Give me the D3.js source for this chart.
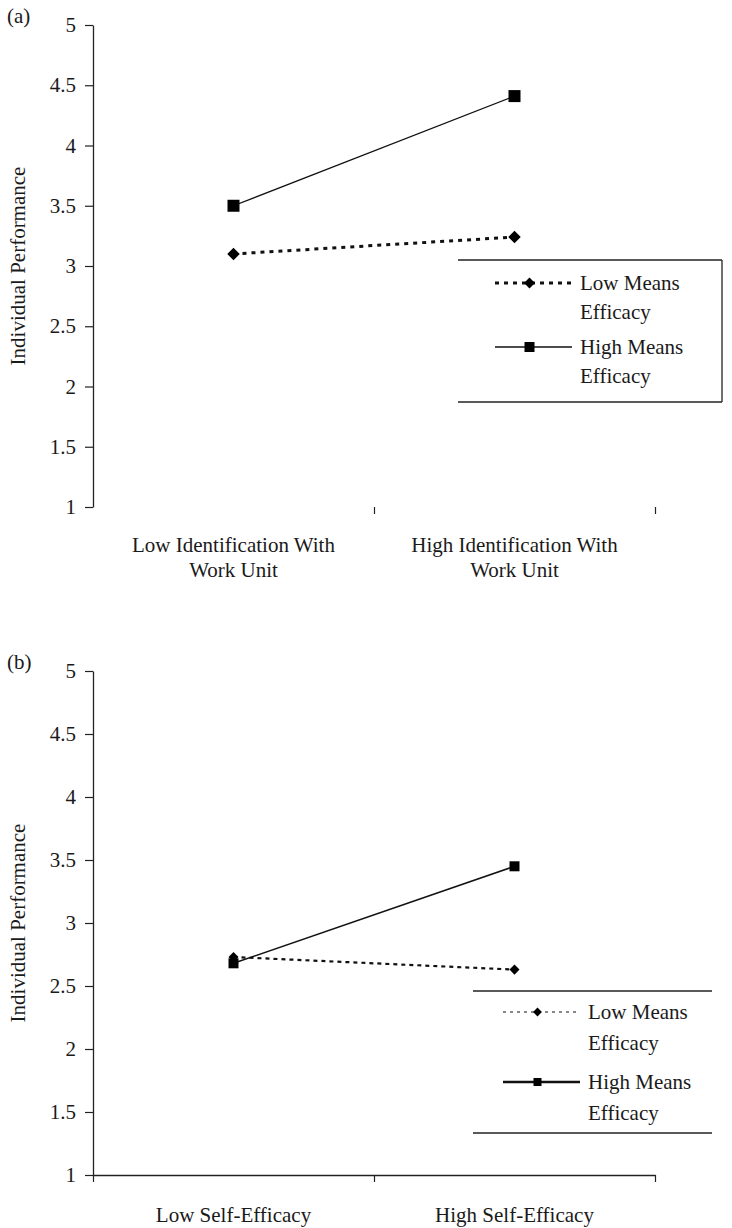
<!DOCTYPE html>
<html>
<head>
<meta charset="utf-8">
<script src="https://cdn.jsdelivr.net/npm/d3@7"></script>
<style>
  body { margin: 0; background: #fff; }
  svg text { font-family: "Liberation Serif", "Times New Roman", serif; fill: #1a1a1a; }
</style>
</head>
<body>
<div id="chart"></div>
<script>
"use strict";

// data
const yTicks = [1, 1.5, 2, 2.5, 3, 3.5, 4, 4.5, 5];
const seriesNames = ["Low Means Efficacy", "High Means Efficacy"];

const catsA = [["Low Identification With", "Work Unit"], ["High Identification With", "Work Unit"]];
const lowMeansA = [3.10, 3.24];
const highMeansA = [3.50, 4.41];

const catsB = [["Low Self-Efficacy"], ["High Self-Efficacy"]];
const lowMeansB = [2.73, 2.63];
const highMeansB = [2.68, 3.45];

const W = 732, H = 1228;
const FS = "21px";
const svg = d3.select("#chart").append("svg")
    .attr("width", W).attr("height", H);

// panel settings (layout only)
const panels = [
  { tag: "(a)", cats: catsA, low: lowMeansA, high: highMeansA,
    top: 25, bottom: 507, xAxisLine: false,
    lowStyle: { dash: "4,5", width: 3 }, highStyle: { width: 1.3 },
    legLow: { dash: "4,5", width: 3 }, legHigh: { width: 1.3 },
    dSize: 100, sSize: 144, legD: 75, legS: 100,
    legendBox: { x0: 458, x1: 722, y0: 260, y1: 402, right: true },
    legendText: 580, rowY: [23, 87], lineGap: 29, labelY: 552 },
  { tag: "(b)", cats: catsB, low: lowMeansB, high: highMeansB,
    top: 671, bottom: 1175, xAxisLine: true,
    lowStyle: { dash: "4,4", width: 2.2 }, highStyle: { width: 1.5 },
    legLow: { dash: "3,4", width: 1 }, legHigh: { width: 2.5 },
    dSize: 64, sSize: 100, legD: 50, legS: 64,
    legendBox: { x0: 473, x1: 712, y0: 991, y1: 1133, right: false },
    legendText: 588, rowY: [21, 91], lineGap: 31, labelY: 1222 }
];

const xLeft = 93, xRight = 655;

panels.forEach(p => {
  const g = svg.append("g");

  const y = d3.scaleLinear().domain([1, 5]).range([p.bottom, p.top]);
  const x = d3.scalePoint().domain(p.cats.map((d, i) => i)).range([xLeft, xRight]).padding(0.5);
  const xEdge = d3.scaleLinear().domain([0, 2]).range([xLeft, xRight]);

  // y axis
  const yAxis = g.append("g")
      .attr("transform", "translate(" + xLeft + ",0)")
      .call(d3.axisLeft(y).tickValues(yTicks).tickSize(8).tickSizeOuter(0)
            .tickPadding(9).tickFormat(d => String(d)));
  yAxis.selectAll("text").style("font-size", FS);
  yAxis.select(".domain").attr("stroke", "#222").attr("stroke-width", 1.3);
  yAxis.selectAll(".tick line").attr("stroke", "#222").attr("stroke-width", 1.2);

  // x axis (panel a only shows the tick marks)
  const xAxis = g.append("g")
      .attr("transform", "translate(0," + p.bottom + ")")
      .call(d3.axisBottom(xEdge).tickValues(p.xAxisLine ? [0, 1, 2] : [1, 2])
            .tickSize(7).tickSizeOuter(0).tickFormat(""));
  xAxis.select(".domain").attr("stroke", p.xAxisLine ? "#222" : "none").attr("stroke-width", 1.3);
  xAxis.selectAll(".tick line").attr("stroke", "#222").attr("stroke-width", 1.2);

  // category labels
  p.cats.forEach((lines, i) => {
    const t = g.append("text")
        .attr("x", x(i)).attr("y", p.labelY)
        .attr("text-anchor", "middle")
        .style("font-size", FS);
    lines.forEach((s, j) => {
      t.append("tspan").attr("x", x(i)).attr("dy", j === 0 ? 0 : 25).text(s);
    });
  });

  // y title
  g.append("text")
      .attr("transform", "translate(25," + ((p.top + p.bottom) / 2) + ") rotate(-90)")
      .attr("text-anchor", "middle")
      .style("font-size", FS)
      .text("Individual Performance");

  // panel tag
  g.append("text").attr("x", 7).attr("y", p.top - 2).style("font-size", FS).text(p.tag);

  const line = d3.line().x((d, i) => x(i)).y(d => y(d));
  const diamond = d3.symbol().type(d3.symbolDiamond2).size(p.dSize);
  const square = d3.symbol().type(d3.symbolSquare).size(p.sSize);

  // high means efficacy (solid, squares)
  g.append("path").datum(p.high)
      .attr("d", line).attr("fill", "none")
      .attr("stroke", "#111").attr("stroke-width", p.highStyle.width);
  g.selectAll(".sq").data(p.high).join("path")
      .attr("transform", (d, i) => "translate(" + x(i) + "," + y(d) + ")")
      .attr("d", square).attr("fill", "#000");

  // low means efficacy (dotted, diamonds)
  g.append("path").datum(p.low)
      .attr("d", line).attr("fill", "none")
      .attr("stroke", "#111").attr("stroke-width", p.lowStyle.width)
      .attr("stroke-dasharray", p.lowStyle.dash);
  g.selectAll(".dm").data(p.low).join("path")
      .attr("transform", (d, i) => "translate(" + x(i) + "," + y(d) + ")")
      .attr("d", diamond).attr("fill", "#000");

  // legend
  const lb = p.legendBox;
  const leg = g.append("g");
  leg.append("line").attr("x1", lb.x0).attr("x2", lb.x1).attr("y1", lb.y0).attr("y2", lb.y0)
      .attr("stroke", "#222").attr("stroke-width", 1.3);
  leg.append("line").attr("x1", lb.x0).attr("x2", lb.x1).attr("y1", lb.y1).attr("y2", lb.y1)
      .attr("stroke", "#222").attr("stroke-width", 1.3);
  if (lb.right) {
    leg.append("line").attr("x1", lb.x1).attr("x2", lb.x1).attr("y1", lb.y0).attr("y2", lb.y1)
        .attr("stroke", "#222").attr("stroke-width", 1.3);
  }

  const sx0 = p.legendText - 85, sx1 = p.legendText - 8, smid = (sx0 + sx1) / 2 - 4;
  const legDiamond = d3.symbol().type(d3.symbolDiamond2).size(p.legD);
  const legSquare = d3.symbol().type(d3.symbolSquare).size(p.legS);
  const rows = [
    { y: lb.y0 + p.rowY[0], style: p.legLow, sym: legDiamond, words: seriesNames[0] },
    { y: lb.y0 + p.rowY[1], style: p.legHigh, sym: legSquare, words: seriesNames[1] }
  ];
  rows.forEach(r => {
    leg.append("line").attr("x1", sx0).attr("x2", sx1).attr("y1", r.y).attr("y2", r.y)
        .attr("stroke", "#111").attr("stroke-width", r.style.width)
        .attr("stroke-dasharray", r.style.dash || null);
    leg.append("path").attr("transform", "translate(" + smid + "," + r.y + ")")
        .attr("d", r.sym).attr("fill", "#000");
    const parts = r.words.split(" ");
    const t = leg.append("text").attr("x", p.legendText).attr("y", r.y + 7).style("font-size", FS);
    t.append("tspan").attr("x", p.legendText).text(parts[0] + " " + parts[1]);
    t.append("tspan").attr("x", p.legendText).attr("dy", p.lineGap).text(parts[2]);
  });
});
</script>
</body>
</html>
